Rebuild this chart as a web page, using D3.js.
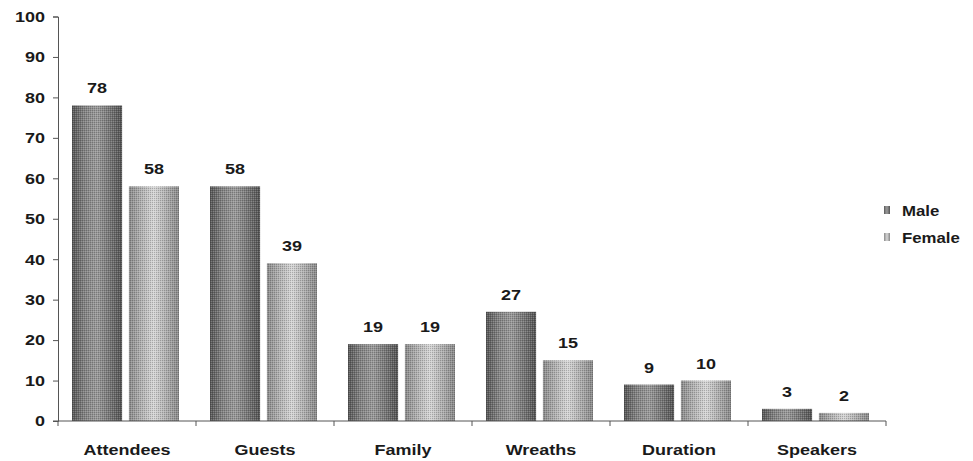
<!DOCTYPE html>
<html>
<head>
<meta charset="utf-8">
<script src="https://cdn.jsdelivr.net/npm/d3@7"></script>
<style>
  html, body { margin: 0; padding: 0; background: #fff; }
  svg { display: block; }
  text { font-family: "Liberation Sans", Arial, sans-serif; fill: #1a1a1a; }
</style>
</head>
<body>
<svg id="chart" width="973" height="461"></svg>
<script>
// Funeral observations by sex of the deceased
const categories = ["Attendees", "Guests", "Family", "Wreaths", "Duration", "Speakers"];
const seriesNames = ["Male", "Female"];
const maleValues = [78, 58, 19, 27, 9, 3];
const femaleValues = [58, 39, 19, 15, 10, 2];
const yTicks = [0, 10, 20, 30, 40, 50, 60, 70, 80, 90, 100];

const svg = d3.select("#chart");
const width = 973, height = 461;
const margin = { left: 58, right: 87, top: 16.5, bottom: 40 };
const STRETCH = 1.2; // text is set slightly wide

const x = d3.scaleBand().domain(categories).range([margin.left, width - margin.right]).paddingInner(0).paddingOuter(0);
const inner = d3.scaleBand().domain(seriesNames).range([14, x.bandwidth() - 17]).paddingInner(0.12);
const y = d3.scaleLinear().domain([0, 100]).range([height - margin.bottom, margin.top]);

// place a text with horizontal stretch at (px, py)
function wideText(parent, px, py) {
  return parent.append("text").attr("transform", `translate(${px},${py}) scale(${STRETCH},1)`);
}

// Cylinder-like shading for each series, plus a fine dither overlay
const defs = svg.append("defs");
const shades = {
  Male:   ["#555555", "#838383", "#9a9a9a", "#777777", "#525252"],
  Female: ["#8a8a8a", "#b2b2b2", "#d6d6d6", "#afafaf", "#878787"]
};
Object.entries(shades).forEach(([name, stops]) => {
  const g = defs.append("linearGradient").attr("id", "grad-" + name)
    .attr("x1", "0%").attr("x2", "100%").attr("y1", "0%").attr("y2", "0%");
  stops.forEach((c, i) => g.append("stop").attr("offset", (i / (stops.length - 1) * 100) + "%").attr("stop-color", c));
});
const dither = defs.append("pattern").attr("id", "dither").attr("width", 2).attr("height", 2).attr("patternUnits", "userSpaceOnUse");
dither.append("rect").attr("width", 1).attr("height", 1).attr("fill", "#000").attr("opacity", 0.2);
dither.append("rect").attr("x", 1).attr("y", 1).attr("width", 1).attr("height", 1).attr("fill", "#fff").attr("opacity", 0.2);

const data = categories.map((c, i) => ({ cat: c, values: [
  { s: "Male", v: maleValues[i] }, { s: "Female", v: femaleValues[i] }
]}));

const groups = svg.append("g").selectAll("g").data(data).join("g")
  .attr("transform", d => `translate(${x(d.cat)},0)`);

groups.selectAll("rect.bar").data(d => d.values).join("rect")
  .attr("class", "bar")
  .attr("x", d => inner(d.s)).attr("width", inner.bandwidth())
  .attr("y", d => y(d.v)).attr("height", d => y(0) - y(d.v))
  .attr("fill", d => `url(#grad-${d.s})`);

groups.selectAll("rect.dither").data(d => d.values).join("rect")
  .attr("class", "dither")
  .attr("x", d => inner(d.s)).attr("width", inner.bandwidth())
  .attr("y", d => y(d.v)).attr("height", d => y(0) - y(d.v))
  .attr("fill", "url(#dither)");

groups.each(function(d) {
  const g = d3.select(this);
  d.values.forEach(v => {
    wideText(g, inner(v.s) + inner.bandwidth() / 2, y(v.v) - 12)
      .attr("text-anchor", "middle").attr("font-size", 15).attr("font-weight", "bold")
      .text(v.v);
  });
});

// Y axis
const yAxis = svg.append("g").attr("transform", `translate(${margin.left},0)`)
  .call(d3.axisLeft(y).tickValues(yTicks).tickSize(5).tickPadding(13));
yAxis.select(".domain").attr("stroke", "#555");
yAxis.selectAll(".tick line").attr("stroke", "#555");
yAxis.selectAll("text")
  .attr("x", -13 / STRETCH)
  .attr("transform", `scale(${STRETCH},1)`)
  .attr("font-size", 15).attr("font-weight", "bold")
  .attr("font-family", "'Liberation Sans', Arial, sans-serif").attr("fill", "#1a1a1a");

// X axis with tick marks at category boundaries
const xAxisG = svg.append("g").attr("transform", `translate(0,${y(0)})`);
xAxisG.append("line").attr("x1", margin.left - 5).attr("x2", width - margin.right)
  .attr("stroke", "#555");
const bounds = categories.map(c => x(c)).concat([x(categories[categories.length - 1]) + x.bandwidth()]);
xAxisG.selectAll("line.tk").data(bounds).join("line").attr("class", "tk")
  .attr("x1", d => d).attr("x2", d => d).attr("y1", 0).attr("y2", 5).attr("stroke", "#555");
categories.forEach(c => {
  wideText(xAxisG, x(c) + x.bandwidth() / 2, 34)
    .attr("text-anchor", "middle").attr("font-size", 15).attr("font-weight", "bold")
    .text(c);
});

// Legend
const legend = svg.append("g").attr("transform", "translate(884,202)");
seriesNames.forEach((s, i) => {
  const row = legend.append("g").attr("transform", `translate(0,${i * 27})`);
  row.append("rect").attr("x", 0).attr("y", 4).attr("width", 6).attr("height", 8)
    .attr("fill", `url(#grad-${s})`);
  wideText(row, 18, 14).attr("font-size", 14).attr("font-weight", "bold")
    .attr("fill", "#222").text(s);
});
</script>
</body>
</html>
